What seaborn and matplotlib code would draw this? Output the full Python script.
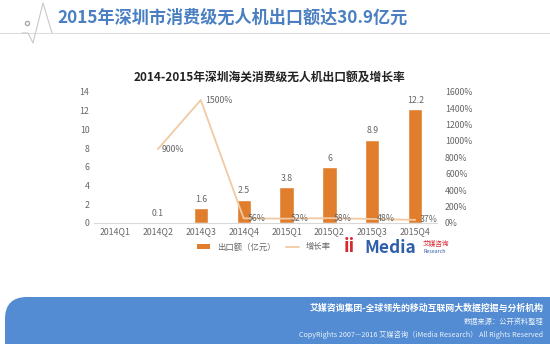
import numpy as np
import pandas as pd
import matplotlib
matplotlib.use("Agg")
import matplotlib.pyplot as plt
from matplotlib.patches import FancyBboxPatch, Patch
from matplotlib.lines import Line2D
import seaborn as sns

quarters = ["2014Q1", "2014Q2", "2014Q3", "2014Q4", "2015Q1", "2015Q2", "2015Q3", "2015Q4"]
export_value = [0, 0.1, 1.6, 2.5, 3.8, 6, 8.9, 12.2]
export_labels = ["", "0.1", "1.6", "2.5", "3.8", "6", "8.9", "12.2"]
growth_rate = [np.nan, 900, 1500, 56, 52, 58, 48, 37]
left_ticks = [0, 2, 4, 6, 8, 10, 12, 14]
right_ticks = [0, 200, 400, 600, 800, 1000, 1200, 1400, 1600]

main_title = "2015年深圳市消费级无人机出口额达30.9亿元"
chart_title = "2014-2015年深圳海关消费级无人机出口额及增长率"
legend_bar = "出口额（亿元）"
legend_line = "增长率"
banner1 = "艾媒咨询集团-全球领先的移动互联网大数据挖掘与分析机构"
banner2 = "数据来源：公开资料整理"
banner3 = "CopyRights 2007—2016 艾媒咨询（iMedia Research） All Rights Reserved"

sns.set_theme(style="white")
plt.rcParams['font.family'] = ['Noto Sans CJK SC', 'DejaVu Sans']
plt.rcParams['axes.unicode_minus'] = False

BAR = "#E07E2E"
LINE = "#F1C9A2"
TXT = "#666666"
BLUE = "#4A7FC1"

fig = plt.figure(figsize=(5.5, 3.44), dpi=100)
fig.patch.set_facecolor("white")

ax = fig.add_axes([0.170, 0.352, 0.624, 0.381])
df = pd.DataFrame({"q": quarters, "v": export_value})
sns.barplot(data=df, x="q", y="v", ax=ax, color=BAR, width=0.33, saturation=1)
ax.set_ylim(0, 14)
ax.set_xlim(-0.5, 7.5)
ax.set_yticks(left_ticks)
ax.set_xlabel("")
ax.set_ylabel("")
ax.tick_params(axis="both", labelsize=6.3, colors=TXT, length=0, pad=3)
for s in ["top", "right", "left"]:
    ax.spines[s].set_visible(False)
ax.spines["bottom"].set_color("#D9D9D9")
ax.spines["bottom"].set_linewidth(0.8)
ax.bar_label(ax.containers[0], labels=export_labels, fontsize=6.3, color=TXT, padding=3)
ax.patch.set_alpha(0)

ax2 = ax.twinx()
gdf = pd.DataFrame({"x": np.arange(len(quarters)), "g": growth_rate}).dropna()
sns.lineplot(data=gdf, x="x", y="g", ax=ax2, color=LINE, linewidth=1.3)
ax2.set_ylim(0, 1600)
ax2.set_yticks(right_ticks)
ax2.set_yticklabels([f"{t}%" for t in right_ticks])
ax2.set_ylabel("")
ax2.tick_params(axis="y", labelsize=6.3, colors=TXT, length=0, pad=6)
for s in ["top", "right", "left", "bottom"]:
    ax2.spines[s].set_visible(False)
for x, g in zip(gdf["x"], gdf["g"]):
    ax2.annotate(f"{int(g)}%", (x, g), xytext=(3, 0), textcoords="offset points",
                 fontsize=6.3, color=TXT, va="center", ha="left")

fig.text(0.49, 0.775, chart_title, ha="center", va="center", fontsize=8.5,
         fontweight="bold", color="#222222")

fig.text(0.105, 0.948, main_title, ha="left", va="center", fontsize=12.3,
         fontweight="bold", color=BLUE)
# decorative header line
fig.add_artist(Line2D([0, 1], [1 - 33/344, 1 - 33/344], color="#DDDDDD", lw=0.8))
xs = np.array([22, 28, 33, 43, 52]) / 550
ys = 1 - np.array([33, 33, 43, 3, 33]) / 344
fig.add_artist(Line2D(xs, ys, color="#C8C8C8", lw=0.8))
fig.add_artist(Line2D([27/550], [1 - 23/344], marker="o", markersize=3,
                      markerfacecolor="white", markeredgecolor="#AAAAAA", lw=0))

handles = [Patch(facecolor=BAR, edgecolor="none"), Line2D([], [], color=LINE, lw=1.3)]
fig.legend(handles, [legend_bar, legend_line], loc="center", bbox_to_anchor=(0.48, 0.282),
           ncol=2, frameon=False, fontsize=6, handlelength=1.6, handleheight=0.5,
           columnspacing=1.2, labelcolor=TXT)

fig.text(0.625, 0.282, "ii", ha="left", va="center", fontsize=13, fontweight="bold",
         color="#D8262E")
fig.text(0.662, 0.280, "Media", ha="left", va="center", fontsize=12.5, fontweight="bold",
         color="#2E5FA8")
fig.text(0.768, 0.292, "艾媒咨询", ha="left", va="center", fontsize=4.8, color="#D8262E")
fig.text(0.770, 0.268, "Research", ha="left", va="center", fontsize=3.8, color="#2E5FA8",
         style="italic")

banner = FancyBboxPatch((0.05, -0.6), 6.0, 0.6 + 0.47,
                        boxstyle="round,pad=0,rounding_size=0.22",
                        transform=fig.dpi_scale_trans, facecolor="#538CD3",
                        edgecolor="none")
fig.add_artist(banner)
fig.text(0.988, 1 - 308/344, banner1, ha="right", va="center", fontsize=6.4,
         fontweight="bold", color="white")
fig.text(0.988, 1 - 322/344, banner2, ha="right", va="center", fontsize=5.2,
         color="#EAF1FA")
fig.text(0.988, 1 - 335/344, banner3, ha="right", va="center", fontsize=5.2,
         color="#EAF1FA")

fig.savefig("out.png", dpi=100)
